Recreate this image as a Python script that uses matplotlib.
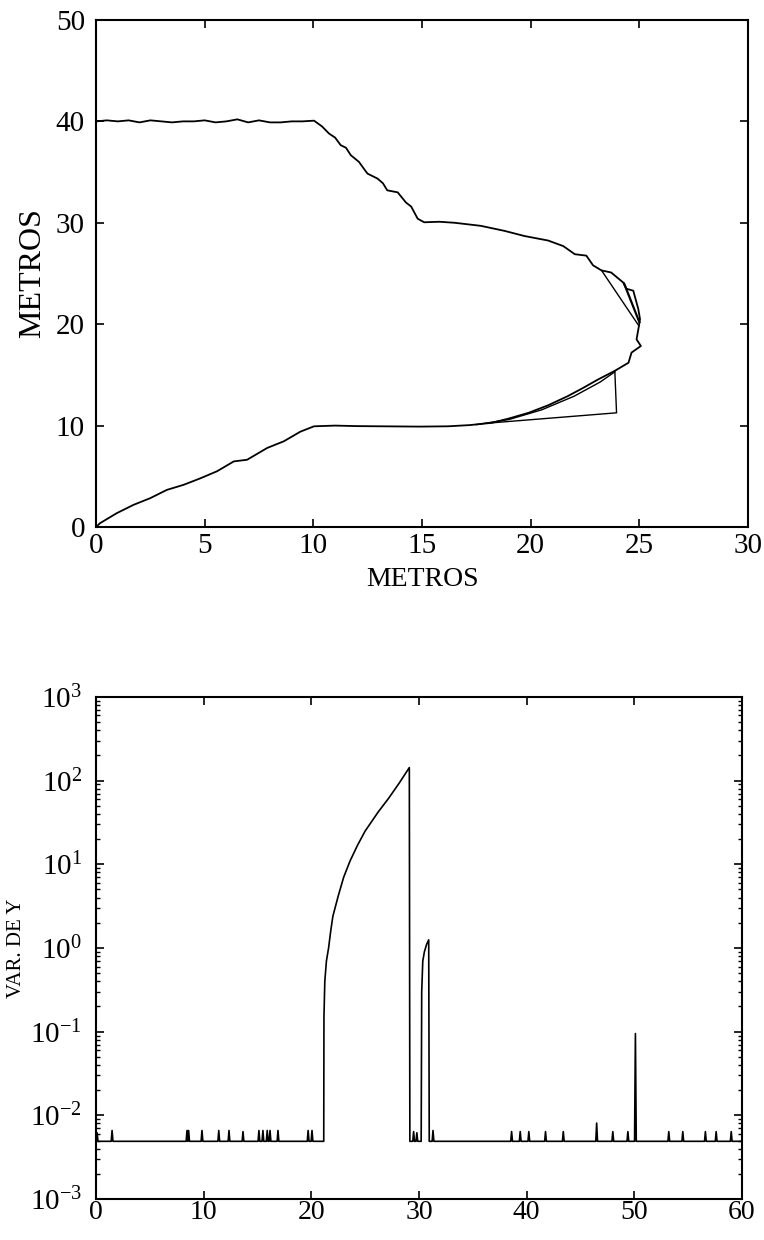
import numpy as np
import matplotlib.pyplot as plt
from matplotlib.ticker import LogFormatterMathtext, NullFormatter

plt.rcParams['font.family'] = ['Liberation Serif', 'DejaVu Serif']
plt.rcParams['mathtext.fontset'] = 'custom'
plt.rcParams['mathtext.rm'] = 'Liberation Serif'
plt.rcParams['mathtext.it'] = 'Liberation Serif'

# --- top chart: trajectory (METROS vs METROS) ---
top_x = [0, 0.5, 1, 1.5, 2, 2.5, 3, 3.5, 4, 4.5, 5, 5.5, 6, 6.5, 7, 7.5, 8, 8.5, 9, 9.5, 10.03,
         10.4, 10.72, 11.0, 11.26, 11.5, 11.72, 12.1, 12.3, 12.49, 12.95, 13.2, 13.4, 13.88,
         14.26, 14.5, 14.8, 15.1, 15.8, 16.5, 17.7, 18.8, 19.7, 20.8, 21.5, 22.03, 22.56,
         22.87, 23.26]
top_y = [40.0, 40.1, 40.0, 40.1, 39.9, 40.1, 40.0, 39.9, 40.0, 40.0, 40.1, 39.9, 40.0, 40.2, 39.9,
         40.1, 39.9, 39.9, 40.0, 40.0, 40.07,
         39.5, 38.8, 38.4, 37.65, 37.4, 36.67, 36.0, 35.4, 34.85, 34.36, 33.9, 33.2, 33.0,
         32.0, 31.6, 30.4, 30.05, 30.1, 30.0, 29.7, 29.2, 28.7, 28.25, 27.7, 26.9, 26.76,
         25.8, 25.3]

tip_x = [23.7, 24.26, 24.4, 24.72, 24.95, 25.03, 24.98, 24.87, 25.07, 24.64, 24.5]
tip_y = [25.1, 24.1, 23.5, 23.3, 21.5, 20.5, 19.83, 18.5, 17.85, 17.2, 16.2]

low_x = [23.87, 23.1, 22.4, 21.7, 20.8, 19.9, 19.0, 18.2, 17.2, 16.2, 14.9, 13.1, 12.0, 11.0, 10.03,
         9.4, 8.64, 7.88, 6.95, 6.34, 5.57, 4.8, 4.03, 3.26, 2.49, 1.72, 0.95, 0.18, 0]
low_y = [15.4, 14.55, 13.7, 12.9, 12.0, 11.26, 10.7, 10.27, 10.05, 9.93, 9.9, 9.93, 9.95, 10.0, 9.93,
         9.4, 8.45, 7.8, 6.63, 6.47, 5.5, 4.8, 4.16, 3.66, 2.84, 2.18, 1.36, 0.37, 0]

# extra estimate lines near the tip
chord_x = [23.26, 24.98]
chord_y = [25.3, 19.83]
inner_x = [24.3, 25.0]
inner_y = [24.0, 20.2]
tri_x = [23.87, 23.95, 18.2]
tri_y = [15.4, 11.26, 10.27]
par_x = [23.87, 23.2, 22.0, 20.5, 19.0, 17.5]
par_y = [15.3, 14.3, 12.9, 11.55, 10.6, 10.1]

# --- bottom chart: VAR. DE Y (log) ---
base_level = 0.0049
hump1_x = [21.15, 21.17, 21.25, 21.4, 21.6, 21.8, 22.0, 22.5, 23.0, 23.6, 24.3, 25.0, 26.2, 27.2,
           28.2, 29.1, 29.15]
hump1_y = [base_level, 0.15, 0.4, 0.7, 1.0, 1.6, 2.4, 4.2, 7.0, 11, 17, 25, 42, 62, 95, 143,
           base_level]
hump2_x = [30.2, 30.25, 30.35, 30.5, 30.7, 30.9, 30.95]
hump2_y = [base_level, 0.3, 0.7, 0.9, 1.1, 1.25, base_level]
spike_x = [0.1, 1.49, 8.45, 8.6, 9.84, 11.4, 12.35, 13.65, 15.13, 15.5, 15.9, 16.16, 16.9, 19.7,
           20.06, 29.5, 29.8, 31.3, 38.6, 39.4, 40.2, 41.75, 43.4, 46.5, 48.0, 49.4, 50.1,
           53.2, 54.5, 56.6, 57.6, 59.0]
spike_h = [0.0062, 0.0066, 0.0066, 0.0066, 0.0066, 0.0066, 0.0066, 0.0064, 0.0066, 0.0066, 0.0066,
           0.0066, 0.0066, 0.0066, 0.0066, 0.0064, 0.0062, 0.0066, 0.0064, 0.0064, 0.0064, 0.0064,
           0.0064, 0.0081, 0.0064, 0.0064, 0.095, 0.0064, 0.0064, 0.0064, 0.0064, 0.0064]
log_ticks = [1e-3, 1e-2, 1e-1, 1e0, 1e1, 1e2, 1e3]

# build bottom series: baseline with spikes and humps in order
bx, by = [0.0], [base_level]
events = [(x, [x - 0.08, x, x + 0.08], [base_level, h, base_level]) for x, h in zip(spike_x, spike_h)]
events.append((hump1_x[0], hump1_x, hump1_y))
events.append((hump2_x[0], hump2_x, hump2_y))
events.sort(key=lambda e: e[0])
for _, ex, ey in events:
    bx += list(ex)
    by += list(ey)
bx.append(60.0)
by.append(base_level)

fig = plt.figure(figsize=(7.64, 12.4), dpi=100)
lw = 1.3

ax1 = fig.add_axes([0.1257, 0.575, 0.8534, 0.4089])
ax1.plot(top_x + tip_x + low_x, top_y + tip_y + low_y, 'k-', lw=lw)
ax1.plot(chord_x, chord_y, 'k-', lw=1.0)
ax1.plot(inner_x, inner_y, 'k-', lw=1.6)
ax1.plot(tri_x, tri_y, 'k-', lw=1.0)
ax1.plot(par_x, par_y, 'k-', lw=1.0)
ax1.set_xlim(0, 30)
ax1.set_ylim(0, 50)
ax1.set_xticks([0, 5, 10, 15, 20, 25, 30])
ax1.set_yticks([0, 10, 20, 30, 40, 50])
ax1.set_xlabel('METROS', fontsize=20, labelpad=6)
ax1.set_ylabel('METROS', fontsize=23, labelpad=6)

ax2 = fig.add_axes([0.1257, 0.0330, 0.8455, 0.4050])
ax2.semilogy(bx, by, 'k-', lw=1.2)
ax2.set_xlim(0, 60)
ax2.set_ylim(1e-3, 1e3)
ax2.set_xticks([0, 10, 20, 30, 40, 50, 60])
ax2.set_yticks(log_ticks)
ax2.yaxis.set_major_formatter(LogFormatterMathtext())
minor = [m * t for t in log_ticks[:-1] for m in range(2, 10)]
ax2.set_yticks(minor, minor=True)
ax2.yaxis.set_minor_formatter(NullFormatter())
ax2.set_ylabel('VAR. DE Y', fontsize=15)
ax2.yaxis.set_label_coords(-0.108, 0.5)

for ax in (ax1, ax2):
    for s in ax.spines.values():
        s.set_linewidth(1.5)
    ax.tick_params(which='major', direction='in', top=True, right=True, length=6, width=1.2,
                   labelsize=21)
    ax.tick_params(which='minor', direction='in', left=True, right=True, length=3, width=1.0)

ax1.tick_params(axis='x', pad=4)
ax1.tick_params(axis='y', pad=8)
ax2.tick_params(axis='x', pad=1, labelsize=20)
ax2.tick_params(axis='y', pad=10)

fig.savefig('out.png', dpi=100)
